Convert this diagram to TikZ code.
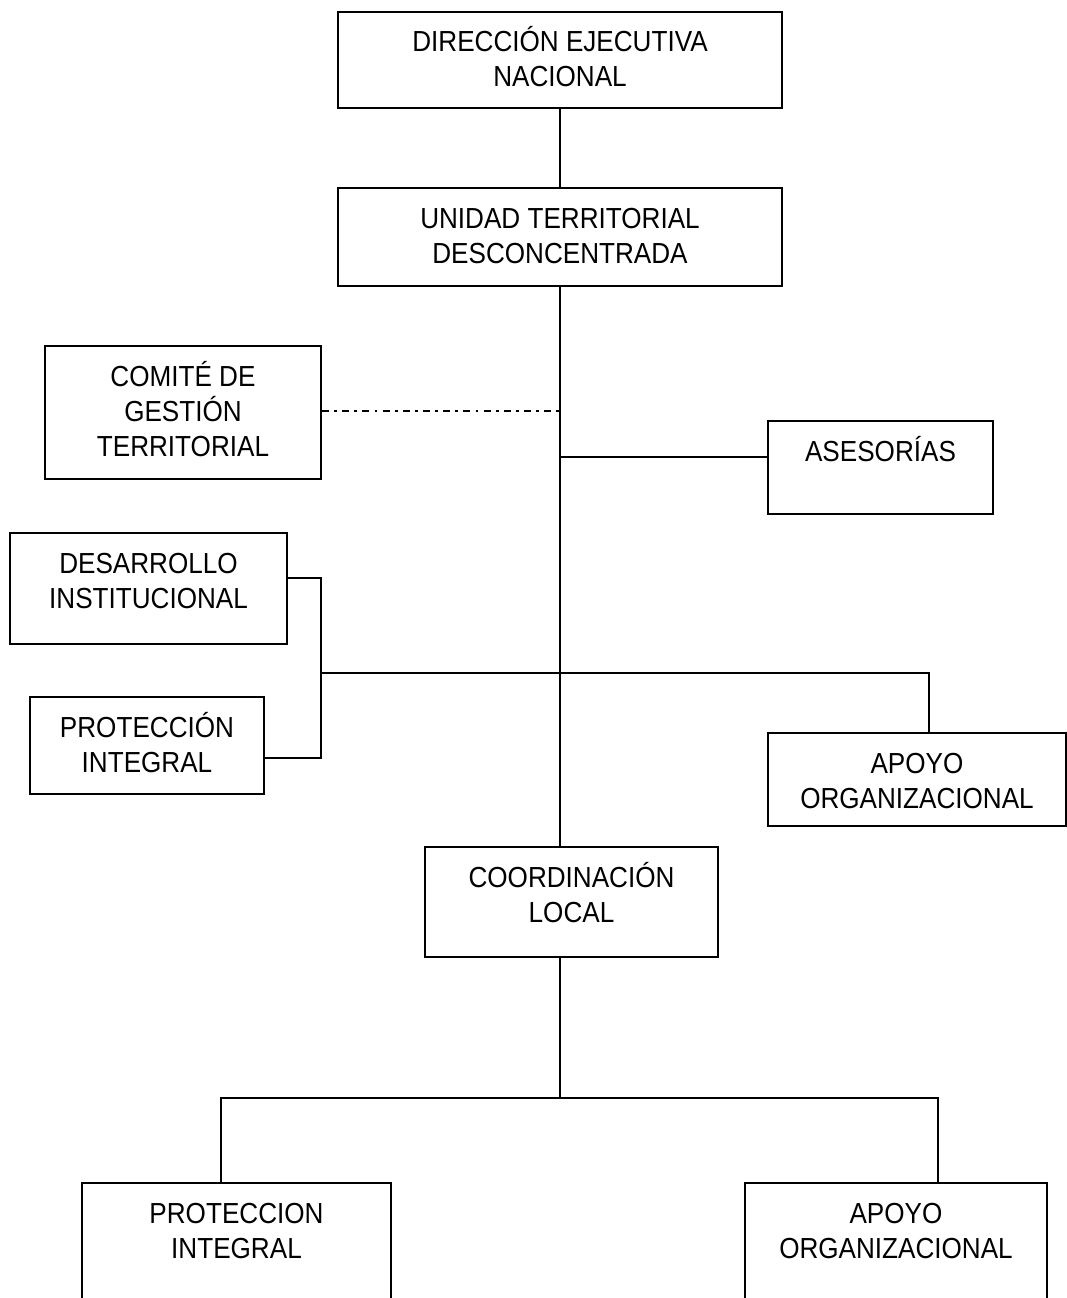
\documentclass[tikz,border=0pt]{standalone}
\usepackage{fontspec}
\setmainfont{Liberation Sans}[FakeStretch=0.9]
\usepackage{tikz}
\tikzstyle{box} = [draw,line width=1pt,inner sep=0pt]
\tikzstyle{topbox} = [box,line width=1.4pt]
\tikzstyle{lbl} = [anchor=base,align=center,inner sep=0pt,yshift=-20.5pt,font=\fontsize{14.5}{17.5}\selectfont]
\tikzstyle{lbl2} = [lbl,yshift=-17.5pt]
\tikzstyle{lbl3} = [lbl2,yshift=-17.5pt]
\tikzstyle{edge} = [draw,line width=1pt]
\tikzstyle{dots} = [draw,line width=0.8pt,dash pattern=on 3.5pt off 2.6pt on 1.4pt off 2.6pt]

\begin{document}
\begin{tikzpicture}[x=0.5pt,y=-0.5pt]
    \clip (0,0) rectangle (1067,1298);

    \node[topbox,minimum width=222pt,minimum height=48pt] (dir) at (560,60) {};
    \node[box,minimum width=222pt,minimum height=49pt] (uni) at (560,237) {};
    \node[box,minimum width=138pt,minimum height=66.5pt] (comite) at (183,412.5) {};
    \node[box,minimum width=112.5pt,minimum height=46.5pt] (ases) at (880.5,467.5) {};
    \node[box,minimum width=138.5pt,minimum height=55.5pt] (desa) at (148.5,588.5) {};
    \node[box,minimum width=117pt,minimum height=48.5pt] (prot) at (147,745.5) {};
    \node[box,minimum width=149pt,minimum height=46.5pt] (apoyo) at (917,779.5) {};
    \node[box,minimum width=146.5pt,minimum height=55pt] (coord) at (571.5,902) {};
    \node[box,minimum width=154.5pt,minimum height=63.5pt] (protB) at (236.5,1246.5) {};
    \node[box,minimum width=151pt,minimum height=63.5pt] (apoyoB) at (896,1246.5) {};

    \node[lbl2] (dirT) at (dir.north) {DIRECCIÓN EJECUTIVA\\NACIONAL};
    \node[lbl2] (uniT) at (uni.north) {UNIDAD TERRITORIAL\\DESCONCENTRADA};
    \node[lbl3] (comiteT) at (comite.north) {COMITÉ DE\\GESTIÓN\\TERRITORIAL};
    \node[lbl] (asesT) at (ases.north) {ASESORÍAS};
    \node[lbl2] (desaT) at (desa.north) {DESARROLLO\\INSTITUCIONAL};
    \node[lbl2] (protT) at (prot.north) {PROTECCIÓN\\INTEGRAL};
    \node[lbl2] (apoyoT) at (apoyo.north) {APOYO\\ORGANIZACIONAL};
    \node[lbl2] (coordT) at (coord.north) {COORDINACIÓN\\LOCAL};
    \node[lbl2] (protBT) at (protB.north) {PROTECCION\\INTEGRAL};
    \node[lbl2] (apoyoBT) at (apoyoB.north) {APOYO\\ORGANIZACIONAL};

    \coordinate (dj) at (560,411);
    \coordinate (aj) at (560,457);
    \coordinate (lj) at (321,673);
    \coordinate (rj) at (929,673);
    \coordinate (bj) at (560,1098);
    \coordinate (bl) at (221,1098);
    \coordinate (br) at (938,1098);

    \draw[edge] (dir.south) -- (uni.north);
    \draw[edge] (uni.south) -- (uni.south |- coord.north);
    \draw[dots] (comite.east |- dj) -- (dj);
    \draw[edge] (aj) -- (aj -| ases.west);
    \draw[edge] (desa.east |- 0,578) -| (lj) |- (prot.east |- 0,758);
    \draw[edge] (lj) -- (rj) -- (rj |- apoyo.north);
    \draw[edge] (bj |- coord.south) -- (bj);
    \draw[edge] (bl |- protB.north) -- (bl) -- (br) -- (br |- apoyoB.north);

    \end{tikzpicture}
\end{document}
